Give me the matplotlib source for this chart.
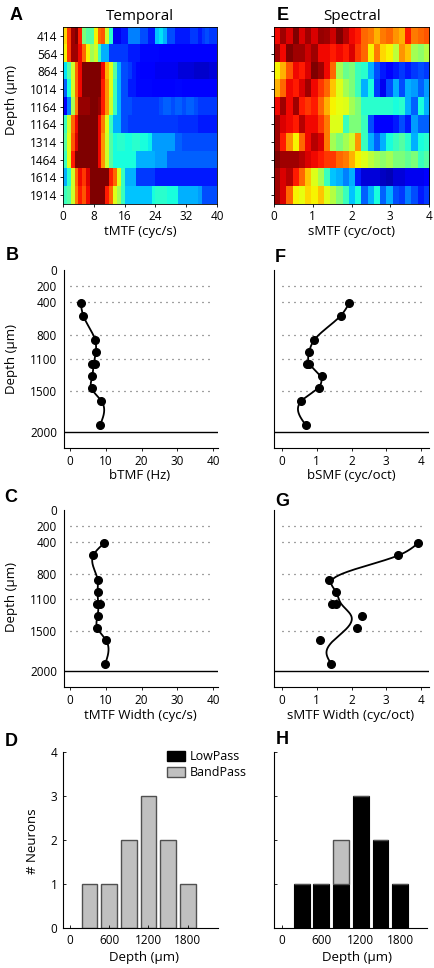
import numpy as np
import matplotlib
matplotlib.use('Agg')
import matplotlib.pyplot as plt
from matplotlib.patches import Patch

plt.rcParams['font.family'] = ['Open Sans', 'DejaVu Sans']
plt.rcParams['font.size'] = 8.5

W, H = 434, 968

# ---------------- data ----------------
depth_labels = [414, 564, 864, 1014, 1164, 1164, 1314, 1464, 1614, 1914]

# temporal MTF heatmap, one row per neuron, 1 cyc/s bins from 0 to 40 (normalised 0..1)
tmtf_rows = [
    [0.68, 0.85, 0.97, 1.00, 0.88, 0.50, 0.45, 0.45, 0.65, 0.80, 0.82, 0.60, 0.40, 0.10, 0.10, 0.15, 0.15, 0.25, 0.25, 0.25,
     0.20, 0.20, 0.15, 0.15, 0.32, 0.35, 0.30, 0.20, 0.20, 0.15, 0.15, 0.15, 0.15, 0.18, 0.18, 0.15, 0.18, 0.20, 0.18, 0.18],
    [0.65, 0.85, 0.97, 0.97, 0.90, 0.80, 0.65, 0.55, 0.60, 0.42, 0.30, 0.30, 0.18, 0.18, 0.18, 0.18, 0.18, 0.15, 0.15, 0.15,
     0.13, 0.13, 0.13, 0.13, 0.13, 0.12, 0.12, 0.12, 0.12, 0.12, 0.12, 0.12, 0.12, 0.12, 0.12, 0.12, 0.12, 0.12, 0.12, 0.12],
    [0.35, 0.45, 0.60, 0.80, 0.90, 1.00, 1.00, 1.00, 1.00, 1.00, 0.90, 0.72, 0.62, 0.45, 0.30, 0.20, 0.20, 0.18, 0.15, 0.13,
     0.12, 0.12, 0.12, 0.12, 0.10, 0.10, 0.10, 0.10, 0.10, 0.10, 0.08, 0.08, 0.08, 0.08, 0.07, 0.07, 0.07, 0.07, 0.08, 0.08],
    [0.22, 0.38, 0.60, 0.80, 0.90, 1.00, 1.00, 1.00, 1.00, 1.00, 0.88, 0.75, 0.62, 0.42, 0.30, 0.20, 0.20, 0.15, 0.15, 0.13,
     0.13, 0.13, 0.13, 0.12, 0.12, 0.12, 0.12, 0.12, 0.12, 0.13, 0.13, 0.12, 0.12, 0.12, 0.12, 0.12, 0.12, 0.12, 0.12, 0.12],
    [0.12, 0.25, 0.55, 0.78, 0.98, 0.98, 0.98, 1.00, 1.00, 0.98, 0.88, 0.75, 0.60, 0.42, 0.30, 0.20, 0.20, 0.20, 0.18, 0.18,
     0.18, 0.18, 0.18, 0.18, 0.18, 0.20, 0.22, 0.22, 0.20, 0.22, 0.22, 0.20, 0.22, 0.22, 0.20, 0.18, 0.18, 0.18, 0.18, 0.18],
    [0.42, 0.60, 0.80, 0.90, 1.00, 1.00, 1.00, 1.00, 1.00, 0.90, 0.78, 0.62, 0.42, 0.30, 0.30, 0.20, 0.20, 0.18, 0.18, 0.18,
     0.18, 0.18, 0.18, 0.18, 0.18, 0.18, 0.18, 0.18, 0.18, 0.18, 0.17, 0.17, 0.17, 0.17, 0.17, 0.15, 0.15, 0.15, 0.15, 0.15],
    [0.45, 0.62, 0.82, 0.92, 1.00, 1.00, 1.00, 1.00, 1.00, 0.90, 0.75, 0.60, 0.45, 0.38, 0.40, 0.40, 0.38, 0.38, 0.40, 0.40,
     0.38, 0.38, 0.36, 0.28, 0.28, 0.28, 0.28, 0.28, 0.28, 0.22, 0.22, 0.20, 0.20, 0.20, 0.20, 0.20, 0.20, 0.20, 0.20, 0.20],
    [0.42, 0.62, 0.88, 1.00, 1.00, 1.00, 1.00, 1.00, 1.00, 0.90, 0.75, 0.60, 0.45, 0.38, 0.38, 0.38, 0.38, 0.38, 0.38, 0.30,
     0.30, 0.30, 0.30, 0.30, 0.28, 0.28, 0.28, 0.22, 0.22, 0.22, 0.22, 0.22, 0.22, 0.22, 0.22, 0.22, 0.22, 0.22, 0.22, 0.22],
    [0.30, 0.40, 0.60, 0.80, 0.90, 0.85, 0.92, 1.00, 1.00, 1.00, 1.00, 1.00, 0.88, 0.80, 0.62, 0.42, 0.30, 0.30, 0.30, 0.18,
     0.18, 0.18, 0.18, 0.18, 0.15, 0.15, 0.15, 0.15, 0.15, 0.15, 0.15, 0.15, 0.15, 0.15, 0.15, 0.15, 0.15, 0.15, 0.15, 0.15],
    [0.42, 0.45, 0.60, 0.78, 0.88, 0.82, 0.90, 1.00, 1.00, 1.00, 1.00, 0.88, 0.80, 0.62, 0.55, 0.42, 0.32, 0.32, 0.32, 0.32,
     0.32, 0.32, 0.32, 0.38, 0.40, 0.40, 0.40, 0.38, 0.38, 0.38, 0.30, 0.30, 0.30, 0.30, 0.30, 0.28, 0.20, 0.20, 0.20, 0.20],
]

# spectral MTF heatmap, 25 bins from 0 to 4 cyc/oct (normalised 0..1)
smtf_rows = [
    [0.90, 0.97, 0.92, 1.00, 0.92, 0.97, 0.92, 0.98, 0.97, 0.93, 1.00, 0.95, 0.90, 0.88, 0.80, 0.78, 0.72, 0.78, 0.80, 0.75,
     0.72, 0.88, 0.78, 0.80, 0.82],
    [0.97, 0.90, 1.00, 0.97, 0.97, 0.93, 0.97, 0.90, 0.90, 0.88, 0.90, 0.88, 0.92, 0.85, 0.80, 0.65, 0.78, 0.68, 0.65, 0.58,
     0.75, 0.70, 0.55, 0.52, 0.57],
    [0.65, 0.72, 0.82, 0.90, 0.88, 0.92, 1.00, 0.97, 0.90, 0.80, 0.55, 0.48, 0.50, 0.42, 0.40, 0.30, 0.20, 0.15, 0.12, 0.15,
     0.18, 0.15, 0.18, 0.20, 0.18],
    [0.72, 0.80, 0.90, 0.88, 0.92, 0.97, 0.90, 0.85, 0.80, 0.70, 0.62, 0.55, 0.50, 0.42, 0.30, 0.38, 0.18, 0.10, 0.20, 0.30,
     0.20, 0.30, 0.28, 0.22, 0.28],
    [0.90, 0.97, 0.90, 0.97, 0.88, 0.85, 0.88, 0.80, 0.72, 0.65, 0.63, 0.62, 0.55, 0.50, 0.40, 0.40, 0.40, 0.40, 0.40, 0.38,
     0.40, 0.30, 0.22, 0.38, 0.30],
    [0.97, 0.92, 0.90, 0.88, 0.95, 0.90, 0.90, 0.85, 0.78, 0.62, 0.62, 0.42, 0.50, 0.50, 0.42, 0.20, 0.12, 0.12, 0.12, 0.15,
     0.20, 0.15, 0.28, 0.22, 0.22],
    [0.97, 0.88, 0.75, 0.65, 0.80, 0.90, 0.95, 0.92, 0.78, 0.55, 0.50, 0.55, 0.60, 0.75, 0.42, 0.30, 0.22, 0.30, 0.38, 0.42,
     0.45, 0.40, 0.30, 0.38, 0.40],
    [1.00, 0.97, 0.97, 0.97, 0.95, 0.92, 0.90, 0.88, 0.85, 0.85, 0.80, 0.78, 0.72, 0.65, 0.62, 0.58, 0.55, 0.52, 0.55, 0.50,
     0.50, 0.47, 0.50, 0.42, 0.45],
    [0.97, 0.92, 0.95, 0.88, 0.80, 0.70, 0.62, 0.55, 0.42, 0.32, 0.30, 0.25, 0.30, 0.15, 0.08, 0.08, 0.08, 0.06, 0.05, 0.08,
     0.08, 0.10, 0.10, 0.10, 0.12],
    [0.97, 0.92, 0.80, 0.65, 0.63, 0.68, 0.65, 0.70, 0.62, 0.57, 0.50, 0.42, 0.32, 0.38, 0.22, 0.30, 0.38, 0.22, 0.30, 0.20,
     0.18, 0.25, 0.20, 0.15, 0.18],
]

# per-neuron best modulation frequencies and widths
btmf = [3.0, 3.7, 7.0, 7.2, 6.2, 7.0, 6.2, 6.0, 8.7, 8.4]
tmtf_width = [9.5, 6.5, 7.7, 7.7, 7.5, 8.4, 7.7, 7.6, 10.0, 9.8]
bsmf = [1.93, 1.69, 0.92, 0.77, 0.73, 0.78, 1.14, 1.06, 0.56, 0.68]
smtf_width = [3.91, 3.35, 1.35, 1.56, 1.45, 1.54, 2.31, 2.15, 1.09, 1.42]

# smooth trend lines (knots)
fit_depth = [414, 564, 864, 1014, 1164, 1314, 1464, 1614, 1914]
btmf_fit = [3.0, 3.7, 7.0, 7.2, 6.6, 6.2, 6.0, 8.7, 8.4]
tmtf_width_fit = [9.5, 6.5, 7.7, 7.7, 7.9, 7.7, 7.6, 10.0, 9.8]
bsmf_fit = [1.93, 1.69, 0.93, 0.78, 0.80, 1.10, 1.02, 0.57, 0.68]
smtf_fit_depth = [414, 564, 864, 1014, 1164, 1314, 1464, 1614, 1764, 1914]
smtf_width_fit = [3.91, 3.35, 1.45, 1.55, 1.70, 1.99, 1.88, 1.50, 1.28, 1.42]

layer_lines = [200, 400, 800, 1100, 1500]
depth_ticks = [0, 200, 400, 800, 1100, 1500, 2000]

hist_depth = [300, 600, 900, 1200, 1500, 1800]
temporal_lowpass = [0, 0, 0, 0, 0, 0]
temporal_bandpass = [1, 1, 2, 3, 2, 1]
spectral_lowpass = [1, 1, 1, 3, 2, 1]
spectral_bandpass = [0, 0, 1, 0, 0, 0]


def natural_spline(xk, yk, xs):
    xk = np.asarray(xk, float)
    yk = np.asarray(yk, float)
    n = len(xk)
    h = np.diff(xk)
    A = np.zeros((n, n))
    rhs = np.zeros(n)
    A[0, 0] = A[-1, -1] = 1
    for i in range(1, n - 1):
        A[i, i - 1] = h[i - 1]
        A[i, i] = 2 * (h[i - 1] + h[i])
        A[i, i + 1] = h[i]
        rhs[i] = 6 * ((yk[i + 1] - yk[i]) / h[i] - (yk[i] - yk[i - 1]) / h[i - 1])
    M = np.linalg.solve(A, rhs)
    idx = np.clip(np.searchsorted(xk, xs) - 1, 0, n - 2)
    x0, x1 = xk[idx], xk[idx + 1]
    hh = x1 - x0
    a = (x1 - xs) / hh
    b = (xs - x0) / hh
    return a * yk[idx] + b * yk[idx + 1] + ((a ** 3 - a) * M[idx] + (b ** 3 - b) * M[idx + 1]) * hh ** 2 / 6


fig = plt.figure(figsize=(W / 100, H / 100), dpi=100)


def px_axes(l, t, r, b):
    return fig.add_axes([l / W, 1 - b / H, (r - l) / W, (b - t) / H])


def ftext(x, y, s, **kw):
    kw.setdefault('ha', 'center')
    kw.setdefault('va', 'center')
    fig.text(x / W, 1 - y / H, s, **kw)


# ---------------- heatmaps ----------------
axA = px_axes(63, 27, 217, 204)
axA.imshow(np.array(tmtf_rows), cmap='jet', vmin=0, vmax=1, aspect='auto',
           interpolation='nearest', extent=(0, 40, 9.5, -0.5))
axA.set_yticks(range(10))
axA.set_yticklabels(depth_labels)
axA.set_xticks([0, 8, 16, 24, 32, 40])

axE = px_axes(274, 27, 429, 204)
axE.imshow(np.array(smtf_rows), cmap='jet', vmin=0, vmax=1, aspect='auto',
           interpolation='nearest', extent=(0, 4, 9.5, -0.5))
axE.set_yticks(range(10))
axE.set_yticklabels([])
axE.set_xticks([0, 1, 2, 3, 4])

for ax in (axA, axE):
    ax.tick_params(direction='out', length=2, width=0.6, pad=2, labelsize=8.5)
    for s in ax.spines.values():
        s.set_linewidth(0.6)


# ---------------- depth profiles ----------------
def profile(ax, vals, fdepth, fvals, xlim, xticks, show_labels):
    ax.set_ylim(2200, 0)
    ax.set_xlim(*xlim)
    for d in layer_lines:
        ax.plot([0, xticks[-1]], [d, d], color='#444444', lw=0.9, linestyle=(0, (0.8, 4)))
    ax.axhline(2000, color='black', lw=1.0)
    ys = np.linspace(fdepth[0], fdepth[-1], 300)
    ax.plot(natural_spline(fdepth, fvals, ys), ys, color='black', lw=1.3)
    ax.plot(vals, depth_labels, 'o', color='black', ms=5.5)
    ax.set_yticks(depth_ticks)
    if not show_labels:
        ax.set_yticklabels([])
    ax.set_xticks(xticks)
    ax.spines['top'].set_visible(False)
    ax.spines['right'].set_visible(False)
    ax.tick_params(direction='out', length=2, width=0.6, pad=3, labelsize=8.5)
    ax.tick_params(axis='y', length=0, pad=5)


axB = px_axes(64, 270, 218, 448)
profile(axB, btmf, fit_depth, btmf_fit, (-1.7, 41.4), [0, 10, 20, 30, 40], True)
axF = px_axes(274, 270, 429, 448)
profile(axF, bsmf, fit_depth, bsmf_fit, (-0.23, 4.23), [0, 1, 2, 3, 4], False)
axC = px_axes(64, 510, 218, 687)
profile(axC, tmtf_width, fit_depth, tmtf_width_fit, (-1.7, 41.4), [0, 10, 20, 30, 40], True)
axG = px_axes(274, 510, 429, 687)
profile(axG, smtf_width, smtf_fit_depth, smtf_width_fit, (-0.23, 4.23), [0, 1, 2, 3, 4], False)


# ---------------- histograms ----------------
def hist(ax, low, band, show_labels):
    ax.bar(hist_depth, low, width=240, color='black', edgecolor='black', lw=0.8)
    ax.bar(hist_depth, band, width=240, bottom=low, color='#c0c0c0', edgecolor='#505050', lw=1.0)
    ax.set_ylim(0, 4)
    ax.set_yticks([0, 1, 2, 3, 4])
    if not show_labels:
        ax.set_yticklabels([])
    ax.set_xticks([0, 600, 1200, 1800])
    ax.spines['top'].set_visible(False)
    ax.spines['right'].set_visible(False)
    ax.tick_params(direction='in', length=2, width=0.6, pad=4, labelsize=8.5)


axD = px_axes(63, 752, 218, 928)
hist(axD, temporal_lowpass, temporal_bandpass, True)
axD.set_xlim(-107, 2263)
axH = px_axes(274, 752, 427, 928)
hist(axH, spectral_lowpass, spectral_bandpass, False)
axH.set_xlim(-122, 2210)

handles = [Patch(facecolor='black', edgecolor='black', label='LowPass'),
           Patch(facecolor='#c0c0c0', edgecolor='#505050', label='BandPass')]
axD.legend(handles=handles, loc='upper left', bbox_to_anchor=(0.67, 1.01), frameon=False,
           fontsize=9, handlelength=1.45, handleheight=0.9, handletextpad=0.4,
           labelspacing=0.25, borderpad=0, borderaxespad=0)

# ---------------- text ----------------
ftext(140, 16, 'Temporal', fontsize=11)
ftext(352, 16, 'Spectral', fontsize=11)
ftext(140, 232, 'tMTF (cyc/s)', fontsize=9.5)
ftext(351, 232, 'sMTF (cyc/oct)', fontsize=9.5)
ftext(140, 475, 'bTMF (Hz)', fontsize=9.5)
ftext(351, 475, 'bSMF (cyc/oct)', fontsize=9.5)
ftext(140, 715, 'tMTF Width (cyc/s)', fontsize=9.5)
ftext(351, 715, 'sMTF Width (cyc/oct)', fontsize=9.5)
ftext(144, 957, 'Depth (\u03bcm)', fontsize=9.5)
ftext(357, 957, 'Depth (\u03bcm)', fontsize=9.5)
ftext(11, 100, 'Depth (\u03bcm)', fontsize=9.5, rotation=90)
ftext(11, 359, 'Depth (\u03bcm)', fontsize=9.5, rotation=90)
ftext(11, 597, 'Depth (\u03bcm)', fontsize=9.5, rotation=90)
ftext(33, 841, '# Neurons', fontsize=9.5, rotation=90)

for letter, x, y in [('A', 16, 15), ('E', 283, 15), ('B', 12, 256), ('F', 280, 257),
                     ('C', 11, 498), ('G', 282, 501), ('D', 11, 742), ('H', 282, 740)]:
    ftext(x, y, letter, fontsize=13, fontweight='bold', family='Liberation Sans')

plt.savefig('out.png', dpi=100)
